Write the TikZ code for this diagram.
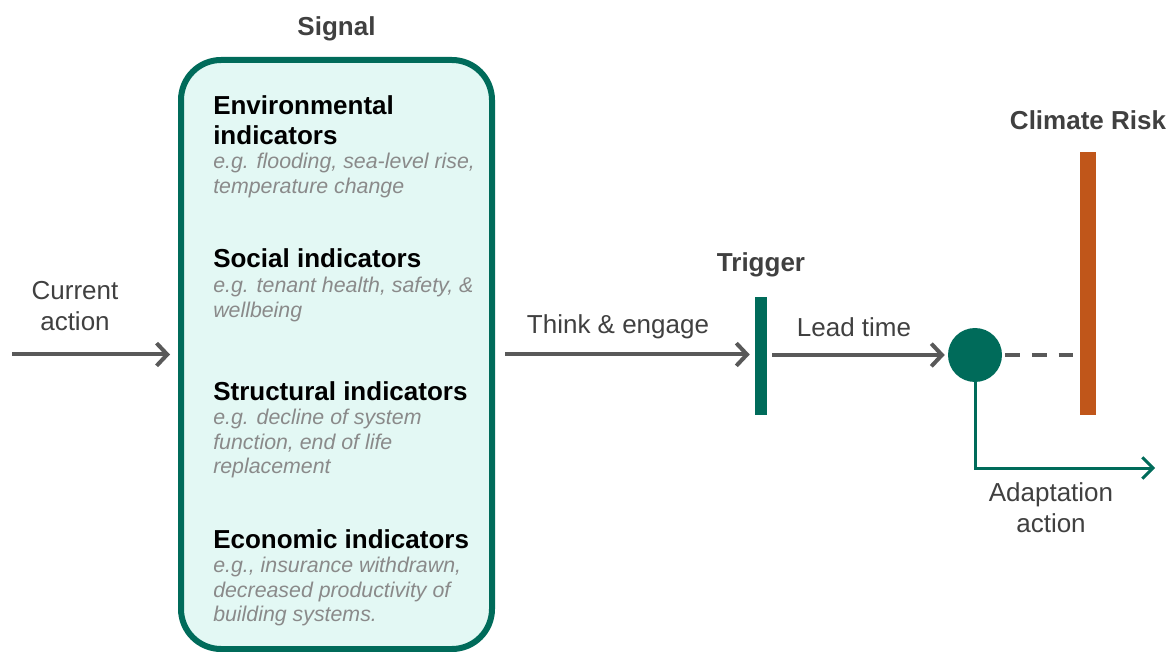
\documentclass[tikz,border=0pt]{standalone}
\usepackage{fontspec}
\setmainfont{Liberation Sans}
\usetikzlibrary{arrows.meta,positioning}

\definecolor{sgreen}{HTML}{006B5A}
\definecolor{mint}{HTML}{E3F8F4}
\definecolor{rorange}{HTML}{C0561A}
\definecolor{flowgray}{HTML}{595959}
\definecolor{headgray}{HTML}{404040}
\definecolor{exgray}{HTML}{8A8A8A}

\begin{document}
\begin{tikzpicture}[x=0.75pt,y=-0.75pt,
  flow/.style={draw=flowgray,line width=3pt,-{Straight Barb[length=8pt,width=17pt]}},
  adapt/.style={draw=sgreen,line width=2.25pt,-{Straight Barb[length=8pt,width=16pt]}},
  head/.style={font=\fontsize{19.5}{22.5}\selectfont\bfseries,text=headgray,inner sep=0pt},
  lbl/.style={font=\fontsize{19.5}{23}\selectfont,text=headgray,align=center,inner sep=0pt},
  ind/.style={font=\fontsize{19.5}{22.5}\selectfont\bfseries,align=left,anchor=north west,inner sep=0pt},
  ex/.style={font=\fontsize{16}{18.4}\selectfont\itshape,text=exgray,align=left,anchor=north west,inner sep=0pt},
  sigbox/.style={draw=sgreen,line width=4.5pt,fill=mint,rounded corners=30pt,
    minimum width=233.25pt,minimum height=441.75pt},
  bar/.style={rectangle,inner sep=0pt}]
  \useasboundingbox (0,0) rectangle (1175,652);

  % signal box and its indicator lists
  \node[sigbox] (signal) at (336.5,354.5) {};
  \node[head, above=11.5pt of signal] {Signal};

  \node[ind] (envT) at (213,95) {Environmental\\indicators};
  \node[ex] (envE) at (213,153) {e.g. flooding, sea-level rise,\\temperature change};
  \node[ind] (socT) at (213,248) {Social indicators};
  \node[ex] (socE) at (213,277) {e.g. tenant health, safety, \&\\wellbeing};
  \node[ind] (strT) at (213,381) {Structural indicators};
  \node[ex] (strE) at (213,409) {e.g. decline of system\\function, end of life\\replacement};
  \node[ind] (ecoT) at (213,529) {Economic indicators};
  \node[ex] (ecoE) at (213,557) {e.g., insurance withdrawn,\\decreased productivity of\\building systems.};

  % trigger, decision point and climate risk
  \node[bar, fill=sgreen, minimum width=9pt, minimum height=88.5pt] (trigger) at (761,356) {};
  \node[head, above=14.5pt of trigger] {Trigger};
  \node[circle, fill=sgreen, inner sep=0pt, minimum size=40.5pt] (decision) at (975,355) {};
  \node[bar, fill=rorange, minimum width=12pt, minimum height=197.25pt] (risk) at (1088,283.5) {};
  \node[head, above=16.5pt of risk] {Climate Risk};

  % connectors
  \coordinate (start) at (12,354.5);
  \coordinate (adaptend) at (1155,468);
  \draw[flow, shorten >=6pt] (start) -- (signal.west);
  \draw[flow, shorten <=7.5pt, shorten >=3.75pt] (signal.east) -- (trigger.west |- signal.east);
  \draw[flow, shorten <=3.75pt, shorten >=2.25pt] (trigger.east |- decision.west) -- (decision.west);
  \draw[draw=flowgray, line width=3pt, dash pattern=on 11pt off 9pt, shorten <=2.25pt, shorten >=3.75pt]
    (decision.east) -- (risk.west |- decision.east);
  \draw[adapt] (decision.south) |- (adaptend);

  % connector labels
  \node[lbl] (curL) at (75,306) {Current\\action};
  \node[lbl] (thinkL) at (618,327) {Think \& engage};
  \node[lbl] (leadL) at (854,327) {Lead time};
  \node[lbl] (adaptL) at (1051,508) {Adaptation\\action};
\end{tikzpicture}
\end{document}
